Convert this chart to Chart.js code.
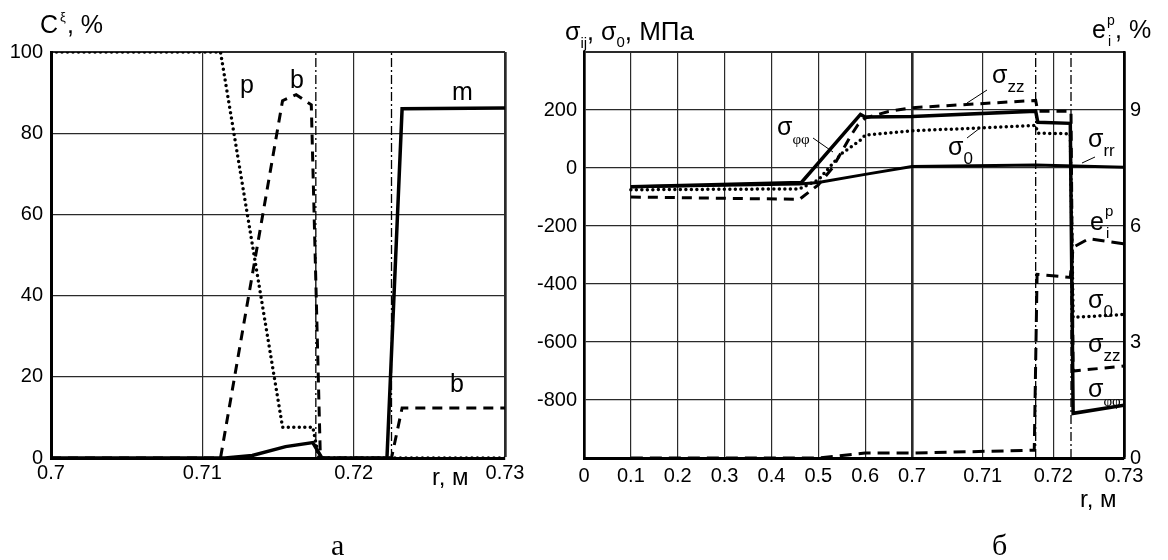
<!DOCTYPE html>
<html>
<head>
<meta charset="utf-8">
<script src="https://cdn.jsdelivr.net/npm/chart.js@4.4.0/dist/chart.umd.min.js"></script>
<style>
  html, body { margin: 0; padding: 0; background: #fff; }
  #wrap { position: relative; width: 1168px; height: 560px; overflow: hidden; }
  canvas { position: absolute; top: 0; }
  #left { left: 0; }
  #right { left: 530px; }
</style>
</head>
<body>
<div id="wrap">
  <canvas id="left" width="530" height="560"></canvas>
  <canvas id="right" width="638" height="560"></canvas>
</div>
<script>
// ---- panel а : phase content C, % versus r, m ----
const aXTicks = [0.7, 0.71, 0.72, 0.73];
const aXLabels = ['0.7', '0.71', '0.72', '0.73'];
const aYTicks = [0, 20, 40, 60, 80, 100];

const pX = [0.7, 0.7112, 0.7153, 0.7173, 0.7177, 0.7225, 0.73];
const pY = [100, 100, 7.6, 7.6, 0, 0, 0];
const bX = [0.7, 0.7112, 0.7153, 0.7162, 0.7172, 0.7178, 0.7225, 0.7232, 0.73];
const bY = [0, 0, 88, 89.5, 87, 0, 0, 12.3, 12.3];
const mX = [0.7, 0.7115, 0.7133, 0.7155, 0.7173, 0.7179, 0.7222, 0.7232, 0.73];
const mY = [0, 0, 0.6, 2.8, 3.8, 0, 0, 86, 86.2];

// zone borders (dash-dot verticals), same on both panels
const zoneX = [0.7175, 0.7225];

// ---- panel б : stresses, MPa and plastic strain, % versus r, m ----
const sXTicks = [0, 0.1, 0.2, 0.3, 0.4, 0.5, 0.6, 0.7, 0.71, 0.72, 0.73];
const sXLabels = ['0', '0.1', '0.2', '0.3', '0.4', '0.5', '0.6', '0.7', '0.71', '0.72', '0.73'];
const sYTicks = [-1000, -800, -600, -400, -200, 0, 200, 400];
const sYLabels = ['', '-800', '-600', '-400', '-200', '0', '200', ''];
const eTicks = [0, 3, 6, 9];

const phiX = [0.1, 0.464, 0.59, 0.6, 0.7, 0.7175, 0.7178, 0.7224, 0.7228, 0.73];
const phiY = [-65, -50, 185, 176, 178, 196, 158, 154, -846, -818];
const zzX = [0.1, 0.46, 0.5, 0.53, 0.57, 0.585, 0.6, 0.65, 0.7, 0.7175, 0.7178, 0.7225, 0.7228, 0.73];
const zzY = [-100, -108, -58, 0, 113, 150, 172, 195, 208, 233, 196, 196, -700, -683];
const s0X = [0.1, 0.46, 0.5, 0.55, 0.59, 0.6, 0.7, 0.7175, 0.7178, 0.7224, 0.7228, 0.73];
const s0Y = [-75, -72, -41, 50, 96, 113, 128, 147, 120, 118, -515, -505];
const rrX = [0.1, 0.46, 0.5, 0.6, 0.7, 0.7175, 0.73];
const rrY = [-65, -55, -50, -22, 5, 10, 3];
const eX = [0.1, 0.5, 0.6, 0.7, 0.7173, 0.7177, 0.7224, 0.7228, 0.725, 0.73];
const eY = [0, 0, 0.13, 0.13, 0.2, 4.75, 4.67, 5.45, 5.67, 5.54];

const SANS = '"Liberation Sans", Arial, sans-serif';
const SERIF = '"Liberation Serif", "Times New Roman", serif';
const GRID = '#2a2a2a';
const tickFont = { family: SANS, size: 20 };

function pts(xs, ys) {
  return xs.map((x, i) => ({ x: x, y: ys[i] }));
}

// x axis of panel б: 0..0.7 normal, 0.7..0.73 stretched
const BREAK = 0.7;
const STRETCH = 15.08;
function warp(v) { return v <= BREAK ? v : BREAK + (v - BREAK) * STRETCH; }
function unwarp(u) { return u <= BREAK ? u : BREAK + (u - BREAK) / STRETCH; }

class BrokenScale extends Chart.LinearScale {
  getPixelForValue(value) {
    if (value === null || value === undefined) return NaN;
    const a = warp(this.min), b = warp(this.max);
    return this.getPixelForDecimal((warp(value) - a) / (b - a));
  }
  getValueForPixel(pixel) {
    const a = warp(this.min), b = warp(this.max);
    return unwarp(a + this.getDecimalForPixel(pixel) * (b - a));
  }
}
BrokenScale.id = 'broken';
Chart.register(BrokenScale);

// simple text with sub/superscripts
function drawRich(ctx, x, y, parts) {
  let cx = x;
  ctx.fillStyle = '#000';
  ctx.textAlign = 'left';
  ctx.textBaseline = 'alphabetic';
  for (const p of parts) {
    ctx.font = p.size + 'px ' + (p.font || SANS);
    ctx.fillText(p.t, cx + (p.dx || 0), y + (p.dy || 0));
    if (!p.stay) cx += ctx.measureText(p.t).width + (p.dx || 0);
  }
}

function textPlugin(texts, leaders, offsetX) {
  return {
    id: 'texts',
    afterDraw(chart) {
      const ctx = chart.ctx;
      ctx.save();
      ctx.strokeStyle = '#000';
      ctx.lineWidth = 1;
      for (const l of leaders) {
        ctx.beginPath();
        ctx.moveTo(l[0] - offsetX, l[1]);
        ctx.lineTo(l[2] - offsetX, l[3]);
        ctx.stroke();
      }
      for (const t of texts) drawRich(ctx, t.x - offsetX, t.y, t.parts);
      ctx.restore();
    }
  };
}

function zoneLines(yMin, yMax, axisId) {
  return zoneX.map(x => ({
    data: [{ x: x, y: yMin }, { x: x, y: yMax }],
    borderColor: '#000', borderWidth: 1.3, borderDash: [9, 3, 2, 3],
    pointRadius: 0, yAxisID: axisId
  }));
}

const aTexts = [
  { x: 40, y: 33, parts: [{ t: 'C', size: 25 }, { t: 'ξ', size: 13, dy: -12, dx: 2 }, { t: ', %', size: 25, dx: 1 }] },
  { x: 240, y: 93, parts: [{ t: 'p', size: 25 }] },
  { x: 290, y: 88, parts: [{ t: 'b', size: 25 }] },
  { x: 452, y: 100, parts: [{ t: 'm', size: 25 }] },
  { x: 450, y: 392, parts: [{ t: 'b', size: 25 }] },
  { x: 432, y: 485, parts: [{ t: 'r, м', size: 24 }] },
  { x: 331, y: 555, parts: [{ t: 'а', size: 30, font: SERIF }] }
];

const sig = (x, y, sub, subFont, subSize) => ({
  x: x, y: y,
  parts: [{ t: 'σ', size: 25 }, { t: sub, size: subSize || 17, dy: 9, font: subFont }]
});
const ePart = (x, y, size) => ({
  x: x, y: y,
  parts: [{ t: 'e', size: size }, { t: 'p', size: 15, dy: -14, dx: 1, stay: true }, { t: 'i', size: 15, dy: 8, dx: 2 }]
});

const bTexts = [
  { x: 565, y: 40, parts: [{ t: 'σ', size: 25 }, { t: 'ij', size: 15, dy: 8 }, { t: ', σ', size: 25 }, { t: '0', size: 15, dy: 7 }, { t: ', МПа', size: 26 }] },
  { x: 1092, y: 38, parts: [{ t: 'e', size: 25 }, { t: 'p', size: 14, dy: -13, dx: 1, stay: true }, { t: 'i', size: 14, dy: 8, dx: 2 }, { t: ', %', size: 25, dx: 4 }] },
  sig(992, 83, 'zz'),
  sig(777, 135, 'φφ', SERIF, 15),
  sig(948, 155, '0'),
  sig(1088, 147, 'rr'),
  ePart(1090, 230, 25),
  sig(1088, 308, '0'),
  sig(1088, 352, 'zz'),
  sig(1088, 397, 'φφ', SERIF, 15),
  { x: 1080, y: 507, parts: [{ t: 'r, м', size: 24 }] },
  { x: 992, y: 555, parts: [{ t: 'б', size: 30, font: SERIF }] }
];
const bLeaders = [
  [987, 90, 967, 103],
  [813, 138, 833, 152],
  [967, 138, 980, 128],
  [1082, 163, 1095, 157]
];

const common = {
  responsive: false,
  animation: false,
  plugins: { legend: { display: false }, tooltip: { enabled: false } },
  elements: { line: { tension: 0 }, point: { radius: 0 } }
};

// ---- panel а ----
new Chart(document.getElementById('left'), {
  type: 'line',
  data: {
    datasets: [
      { data: pts(mX, mY), borderColor: '#000', borderWidth: 3.5 },
      { data: pts(bX, bY), borderColor: '#000', borderWidth: 3, borderDash: [10, 7] },
      { data: pts(pX, pY), borderColor: '#000', borderWidth: 3.5, borderDash: [0, 5.5], borderCapStyle: 'round' },
      ...zoneLines(0, 100, 'y')
    ]
  },
  options: {
    ...common,
    layout: { padding: { left: 0, top: 52, right: 25, bottom: 62 } },
    scales: {
      x: {
        type: 'linear', min: 0.7, max: 0.73,
        afterBuildTicks: s => { s.ticks = aXTicks.map(v => ({ value: v })); },
        afterFit: s => { s.height = 40; },
        ticks: { callback: (v, i) => aXLabels[i], font: tickFont, color: '#000', padding: 3, maxRotation: 0, autoSkip: false },
        grid: { color: GRID, drawTicks: false, lineWidth: c => (c.tick && c.tick.value === 0.73 ? 2.7 : 1.2) },
        border: { color: '#000', width: 3 }
      },
      y: {
        min: 0, max: 100,
        afterBuildTicks: s => { s.ticks = aYTicks.map(v => ({ value: v })); },
        afterFit: s => { s.width = 51; },
        ticks: { callback: v => String(v), font: tickFont, color: '#000', padding: 8 },
        grid: { color: GRID, drawTicks: false, lineWidth: c => (c.tick && c.tick.value === 100 ? 2 : 1.2) },
        border: { color: '#000', width: 3 }
      }
    }
  },
  plugins: [textPlugin(aTexts, [], 0)]
});

// ---- panel б ----
new Chart(document.getElementById('right'), {
  type: 'line',
  data: {
    datasets: [
      { data: pts(phiX, phiY), borderColor: '#000', borderWidth: 3.5, yAxisID: 'y' },
      { data: pts(rrX, rrY), borderColor: '#000', borderWidth: 3, yAxisID: 'y' },
      { data: pts(zzX, zzY), borderColor: '#000', borderWidth: 3, borderDash: [10, 7], yAxisID: 'y' },
      { data: pts(s0X, s0Y), borderColor: '#000', borderWidth: 3.5, borderDash: [0, 5.5], borderCapStyle: 'round', yAxisID: 'y' },
      { data: pts(eX, eY), borderColor: '#000', borderWidth: 3, borderDash: [12, 7], yAxisID: 'y1' },
      ...zoneLines(-1000, 400, 'y')
    ]
  },
  options: {
    ...common,
    layout: { padding: { left: 0, top: 52, right: 0, bottom: 62 } },
    scales: {
      x: {
        type: 'broken', min: 0, max: 0.73,
        afterBuildTicks: s => { s.ticks = sXTicks.map(v => ({ value: v })); },
        afterFit: s => { s.height = 40; },
        ticks: { callback: (v, i) => sXLabels[i], font: tickFont, color: '#000', padding: 6, maxRotation: 0, autoSkip: false },
        grid: {
          color: GRID, drawTicks: false,
          lineWidth: c => {
            if (!c.tick) return 1.2;
            if (c.tick.value === 0.7) return 2.6;
            if (c.tick.value === 0.73) return 2.6;
            return 1.2;
          }
        },
        border: { color: '#000', width: 3 }
      },
      y: {
        position: 'left', min: -1000, max: 400,
        afterBuildTicks: s => { s.ticks = sYTicks.map(v => ({ value: v })); },
        afterFit: s => { s.width = 54; },
        ticks: { callback: (v, i) => sYLabels[i], font: tickFont, color: '#000', padding: 7 },
        grid: { color: GRID, drawTicks: false, lineWidth: c => (c.tick && c.tick.value === 400 ? 2 : 1.2) },
        border: { color: '#000', width: 2.7 }
      },
      y1: {
        position: 'right', min: 0, max: 10.5,
        afterBuildTicks: s => { s.ticks = eTicks.map(v => ({ value: v })); },
        afterFit: s => { s.width = 44; },
        ticks: { callback: v => String(v), font: tickFont, color: '#000', padding: 6 },
        grid: { drawOnChartArea: false, drawTicks: false },
        border: { color: '#000', width: 2.6 }
      }
    }
  },
  plugins: [textPlugin(bTexts, bLeaders, 530)]
});
</script>
</body>
</html>
